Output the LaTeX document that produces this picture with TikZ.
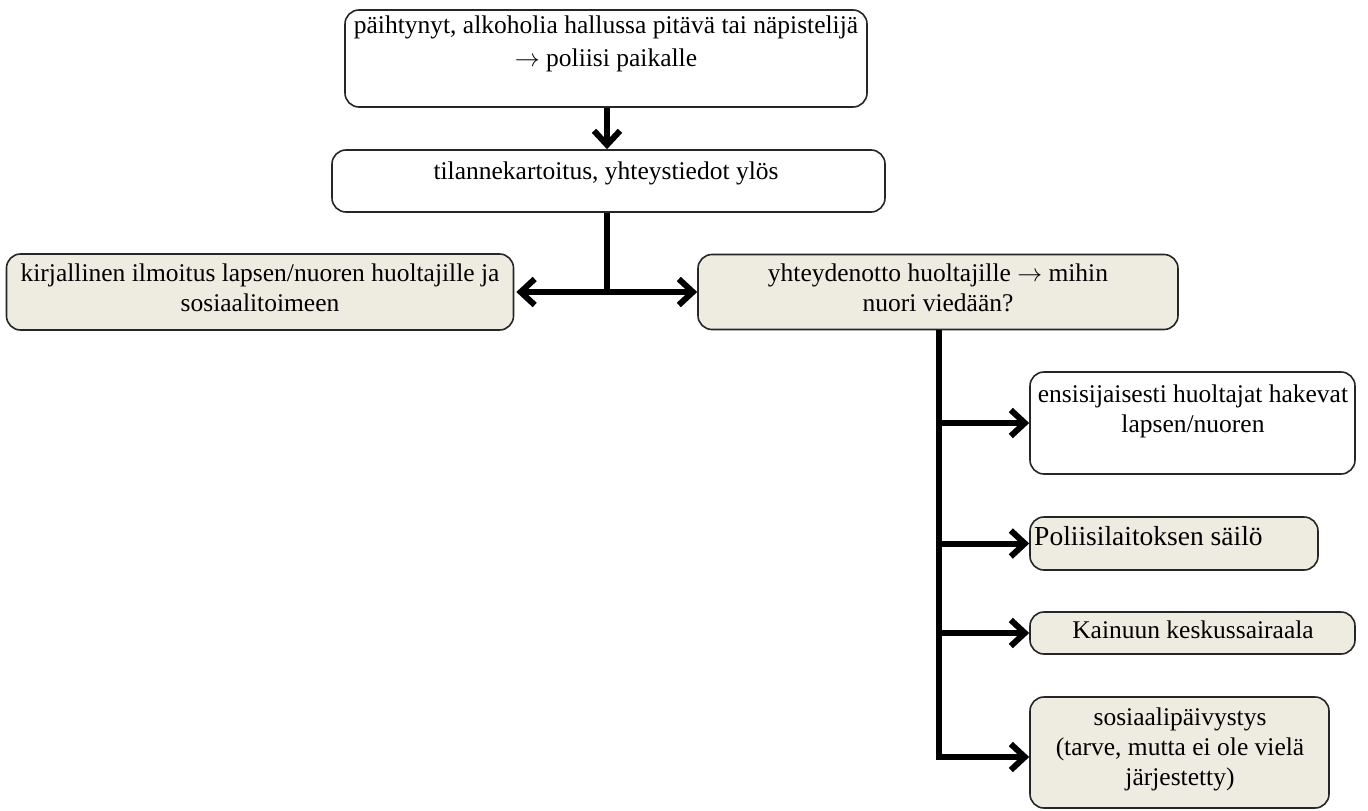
\documentclass[tikz,border=0pt]{standalone}
\usepackage{fontspec}
\setmainfont{Liberation Serif}
\usetikzlibrary{arrows.meta,calc}
\definecolor{beige}{HTML}{EEECE1}
\tikzset{
  box/.style={draw=black!85,line width=1.6pt,rounded corners=14pt,inner sep=0pt},
  wbox/.style={box,fill=white},
  fbox/.style={box,fill=beige},
  txt/.style={inner sep=0pt,align=center,anchor=north,
    font=\fontsize{25.5}{30}\selectfont,
    execute at begin node={\rule{0pt}{18pt}}},
  conn/.style={line width=6pt,draw=black},
  arr/.style={conn,-{Straight Barb[length=14pt,width=26pt,line width=6pt]}},
}
\newcommand{\myarrow}{$\rightarrow$}
\begin{document}
\begin{tikzpicture}[x=1pt,y=-1pt]
\useasboundingbox (0,0) rectangle (1368,811);
% boxes
\node[wbox,minimum width=522pt,minimum height=97pt] (b1) at (606,58.5) {};
\node[wbox,minimum width=553pt,minimum height=62pt] (b2) at (608.5,181) {};
\node[fbox,minimum width=507pt,minimum height=76pt] (bl) at (260,292) {};
\node[fbox,minimum width=480pt,minimum height=75pt] (br) at (938,292) {};
\node[wbox,minimum width=325pt,minimum height=102pt] (c1) at (1192.5,423) {};
\node[fbox,minimum width=288pt,minimum height=53pt] (c2) at (1174,543.5) {};
\node[fbox,minimum width=325pt,minimum height=42pt] (c3) at (1192.5,633) {};
\node[fbox,minimum width=299pt,minimum height=111pt] (c4) at (1179.5,752.5) {};
% texts (north = first baseline - 18)
\node[txt,font=\fontsize{25.5}{33}\selectfont] (t1) at (606,16) {päihtynyt, alkoholia hallussa pitävä tai näpistelijä\\\myarrow{} poliisi paikalle};
\node[txt] (t2) at (606,161) {tilannekartoitus, yhteystiedot ylös};
\node[txt] (tl) at (260,264) {kirjallinen ilmoitus lapsen/nuoren huoltajille ja\\sosiaalitoimeen};
\node[txt] (tr) at (938,264) {yhteydenotto huoltajille \myarrow{} mihin\\nuori viedään?};
\node[txt] (tc1) at (1193,385) {ensisijaisesti huoltajat hakevat\\lapsen/nuoren};
\node[txt,anchor=north west,font=\fontsize{27.5}{31}\selectfont,
  execute at begin node={\rule{0pt}{20pt}}] (tc2) at (1034,525) {Poliisilaitoksen säilö};
\node[txt] (tc3) at (1193,620) {Kainuun keskussairaala};
\node[txt] (tc4) at (1180,708) {sosiaalipäivystys\\(tarve, mutta ei ole vielä\\järjestetty)};
% connectors
\coordinate (x1) at (607,0);
\coordinate (j1) at (607,292);
\coordinate (x3) at (938.5,0);
\coordinate (j2) at (938.5,757);
\draw[arr] (b1.south -| x1) -- (b2.north -| x1);
\draw[conn] (b2.south -| x1) -- (j1);
\draw[arr] (j1) -- ([xshift=2pt]bl.east |- j1);
\draw[arr] (j1) -- (br.west |- j1);
\draw[conn] (br.south -| x3) -- (j2);
\draw[arr] ($(x3 |- c1.west)+(-3pt,0)$) -- (c1.west);
\draw[arr] ($(x3 |- c2.west)+(-3pt,0)$) -- (c2.west);
\draw[arr] ($(x3 |- c3.west)+(-3pt,0)$) -- (c3.west);
\draw[arr] ([xshift=-3pt]j2) -- (c4.west |- j2);
\end{tikzpicture}
\end{document}
